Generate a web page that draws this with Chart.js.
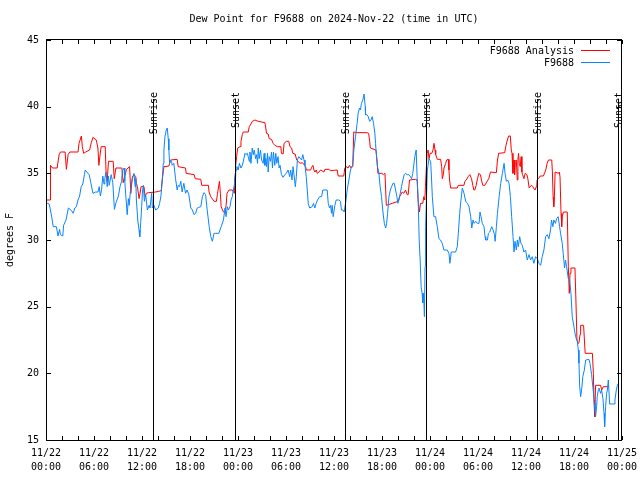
<!DOCTYPE html>
<html><head><meta charset="utf-8">
<script src="https://cdn.jsdelivr.net/npm/chart.js@4"></script>
<style>html,body{margin:0;padding:0;background:#fff}</style>
</head><body>
<canvas id="c" width="640" height="480"></canvas>
<script>
const chartTitle = "Dew Point for F9688 on 2024-Nov-22 (time in UTC)";
const yAxisTitle = "degrees F";
const seriesNames = ["F9688 Analysis", "F9688"];
const tickDates = ["11/22","11/22","11/22","11/22","11/23","11/23","11/23","11/23","11/24","11/24","11/24","11/24","11/25"];
const tickTimes = ["00:00","06:00","12:00","18:00","00:00","06:00","12:00","18:00","00:00","06:00","12:00","18:00","00:00"];
const sunEventHours = [13.41, 23.62, 37.4, 47.55, 61.42, 71.54];
const sunEventLabels = ["Sunrise","Sunset","Sunrise","Sunset","Sunrise","Sunset"];

// [hours since 11/22 00:00 UTC, dew point °F]
const analysisPoints = [[0.0,33.0],[0.5,33.0],[0.56,35.6],[0.81,35.4],[1.39,35.4],[1.64,36.4],[1.81,36.6],[2.39,36.6],[2.55,35.3],[2.76,36.4],[2.97,36.6],[4.0,36.6],[4.13,37.25],[4.42,37.8],[4.54,37.0],[4.71,36.5],[4.96,36.6],[5.45,36.75],[5.66,37.3],[5.87,37.7],[6.28,37.5],[6.49,36.9],[6.61,35.6],[6.78,36.5],[6.9,37.0],[7.4,37.0],[7.52,34.9],[7.65,34.4],[7.81,35.9],[8.4,35.9],[8.53,34.6],[8.74,35.4],[9.48,35.4],[9.65,34.3],[10.06,35.3],[10.45,35.5],[10.6,33.5],[10.8,34.75],[11.01,34.9],[11.22,34.75],[11.3,34.25],[11.43,34.0],[11.63,33.1],[11.76,33.5],[11.88,34.0],[12.25,34.0],[12.38,33.25],[12.55,33.5],[12.79,33.55],[13.71,33.6],[14.41,33.7],[14.53,34.5],[14.74,35.5],[15.36,35.55],[15.57,36.0],[16.4,36.05],[16.52,35.5],[17.44,35.4],[17.52,35.0],[18.52,34.9],[18.65,34.6],[19.35,34.55],[19.47,34.1],[20.3,34.1],[20.39,33.6],[20.59,33.25],[21.01,32.9],[21.3,32.9],[21.42,33.4],[21.55,33.9],[21.68,34.4],[21.8,33.5],[21.89,32.5],[22.18,32.1],[22.38,32.0],[22.51,32.6],[22.63,33.5],[22.88,33.75],[23.3,33.75],[23.54,33.5],[23.63,34.75],[23.71,35.6],[23.83,36.25],[23.96,36.9],[24.25,37.0],[24.37,37.4],[24.54,37.9],[24.66,38.1],[25.28,38.1],[25.41,38.5],[25.62,38.7],[25.78,38.9],[26.11,39.0],[26.53,38.9],[27.36,38.8],[27.48,38.4],[27.56,38.0],[27.77,37.95],[27.9,37.6],[28.19,37.55],[28.39,37.25],[28.6,37.1],[28.93,37.0],[29.35,37.0],[29.43,36.5],[29.64,36.45],[29.76,37.25],[30.05,37.4],[30.34,37.4],[30.5,37.0],[30.7,36.9],[30.85,36.5],[31.14,36.45],[31.34,36.0],[31.76,35.75],[32.05,35.8],[32.46,35.5],[32.54,35.25],[33.08,35.25],[33.2,35.45],[33.37,35.6],[33.49,35.25],[33.62,35.1],[33.78,35.25],[33.91,35.0],[34.12,35.1],[34.32,35.25],[34.74,35.1],[34.86,35.3],[35.36,35.3],[35.57,35.2],[36.4,35.25],[36.52,34.8],[37.22,34.8],[37.35,35.4],[37.51,35.5],[37.76,35.4],[37.93,35.6],[38.14,35.4],[38.34,35.5],[38.47,38.1],[38.88,38.05],[40.13,38.05],[40.33,38.0],[40.46,37.4],[40.54,36.9],[41.24,36.75],[41.37,36.0],[41.49,35.0],[41.99,35.0],[42.17,34.9],[42.37,35.0],[42.46,33.75],[42.54,32.6],[43.28,32.75],[44.03,32.9],[44.2,33.25],[44.53,33.6],[44.73,33.5],[44.94,33.75],[45.15,33.4],[45.27,33.4],[45.44,34.5],[46.18,34.55],[46.39,34.5],[46.52,32.9],[46.68,32.1],[46.81,32.75],[47.1,32.75],[47.22,33.25],[47.35,33.0],[47.43,34.0],[47.51,35.0],[47.64,36.5],[47.76,36.75],[47.88,36.1],[48.01,36.5],[48.22,36.5],[48.38,36.75],[48.5,37.25],[48.63,36.75],[48.71,36.4],[48.92,36.05],[49.33,36.05],[49.46,35.5],[49.54,34.6],[49.67,34.9],[49.75,35.4],[49.96,35.75],[50.08,36.0],[50.29,36.05],[50.37,35.25],[50.45,34.5],[50.58,33.9],[51.41,33.9],[51.53,34.1],[52.24,34.1],[52.36,34.4],[52.53,34.5],[52.77,34.75],[52.98,34.9],[53.19,34.6],[53.35,34.1],[53.48,33.75],[53.6,33.75],[53.77,34.1],[53.94,34.6],[54.1,35.0],[54.31,34.9],[54.43,34.5],[54.6,34.1],[54.85,34.1],[55.14,34.4],[55.35,34.6],[55.56,35.1],[56.3,35.05],[56.43,36.0],[56.59,36.5],[57.34,36.55],[57.5,37.1],[57.67,37.5],[57.83,37.8],[58.04,37.8],[58.16,36.75],[58.25,36.5],[58.37,35.0],[58.5,36.0],[58.58,34.9],[58.66,35.9],[58.79,36.0],[58.91,34.5],[58.99,36.0],[59.07,36.5],[59.16,35.75],[59.28,35.5],[59.4,36.25],[59.49,35.1],[59.57,34.9],[59.74,34.6],[59.9,35.0],[60.11,34.9],[60.23,34.6],[60.4,33.9],[60.52,34.0],[60.73,34.1],[60.85,34.0],[60.94,33.9],[61.14,33.75],[61.35,34.1],[61.39,34.5],[61.56,34.6],[61.77,34.8],[62.18,34.8],[62.31,35.0],[62.47,35.25],[62.64,35.75],[62.81,36.0],[63.22,36.0],[63.3,35.1],[63.39,33.25],[63.47,32.5],[63.55,33.25],[63.64,35.1],[64.05,35.0],[64.17,35.1],[64.25,34.75],[64.38,32.0],[64.46,31.0],[64.54,31.75],[64.67,32.1],[65.16,32.1],[65.29,28.0],[65.41,26.0],[65.5,27.5],[65.62,27.9],[66.12,27.9],[66.24,25.5],[66.37,22.5],[66.53,22.25],[66.63,22.3],[66.75,22.9],[66.83,23.6],[67.2,23.6],[67.3,22.5],[67.4,21.5],[68.3,21.5],[68.42,20.0],[68.5,18.0],[68.58,16.75],[68.7,19.1],[69.33,19.1],[69.45,18.75],[69.67,19.0],[70.38,19.0]];

const stationPoints = [[0.0,32.8],[0.4,32.7],[0.7,31.8],[0.9,31.0],[1.3,31.0],[1.5,30.3],[1.7,30.8],[1.8,30.4],[2.1,30.3],[2.2,31.1],[2.5,31.5],[2.8,32.4],[3.0,32.3],[3.2,32.2],[3.4,32.0],[3.6,32.4],[3.8,32.5],[4.0,33.0],[4.2,33.3],[4.4,34.0],[4.6,34.2],[4.8,34.9],[4.9,35.25],[5.1,35.1],[5.4,34.9],[5.6,34.3],[5.87,33.5],[6.2,33.6],[6.5,33.6],[6.65,34.0],[6.8,33.3],[6.95,33.8],[7.1,34.8],[7.25,34.2],[7.35,34.6],[7.5,35.1],[7.65,34.0],[7.8,34.8],[7.9,34.1],[8.15,34.9],[8.35,34.3],[8.55,32.3],[8.75,32.8],[9.05,33.3],[9.25,34.0],[9.45,34.4],[9.55,35.2],[9.75,35.4],[9.85,34.4],[10.0,33.1],[10.15,31.9],[10.3,33.1],[10.4,32.6],[10.6,34.0],[10.8,34.6],[11.0,35.0],[11.14,34.0],[11.22,34.6],[11.3,33.0],[11.47,31.5],[11.63,30.75],[11.72,30.25],[11.84,31.3],[11.96,32.5],[12.05,33.6],[12.17,34.1],[12.3,32.9],[12.46,33.4],[12.67,32.25],[12.88,32.6],[13.0,32.4],[13.21,33.5],[13.29,32.4],[13.5,32.6],[13.71,32.25],[14.04,32.4],[14.2,32.75],[14.37,33.3],[14.53,34.5],[14.66,35.75],[14.74,36.75],[14.87,37.75],[15.03,38.25],[15.16,38.4],[15.28,37.6],[15.36,36.75],[15.45,35.75],[15.57,36.0],[15.69,35.9],[15.78,35.6],[15.98,35.75],[16.19,34.6],[16.4,33.75],[16.52,34.1],[16.69,34.0],[16.85,34.4],[17.02,33.6],[17.23,34.25],[17.44,33.5],[17.64,33.75],[17.85,33.4],[18.1,32.4],[18.3,32.25],[18.5,31.9],[18.7,32.0],[18.9,32.4],[19.1,32.45],[19.35,32.5],[19.55,33.25],[19.75,33.55],[19.95,33.4],[20.15,32.25],[20.4,31.0],[20.6,30.25],[20.8,29.9],[21.0,30.5],[21.2,30.5],[21.6,30.5],[21.9,31.0],[22.18,31.5],[22.38,32.4],[22.51,31.75],[22.67,32.5],[22.8,32.25],[23.0,32.5],[23.13,33.0],[23.29,33.25],[23.42,33.75],[23.54,34.1],[23.63,34.9],[23.75,35.25],[23.87,35.5],[24.04,35.25],[24.17,35.75],[24.37,35.4],[24.54,35.6],[24.7,36.0],[24.87,36.5],[24.99,36.4],[25.16,36.5],[25.28,36.25],[25.41,35.9],[25.49,36.6],[25.62,35.75],[25.78,36.9],[25.91,36.4],[26.03,36.75],[26.2,36.1],[26.32,36.4],[26.44,35.75],[26.53,36.9],[26.65,36.1],[26.82,36.75],[26.94,36.0],[27.15,35.75],[27.27,36.5],[27.36,35.6],[27.48,36.1],[27.56,35.5],[27.69,36.5],[27.77,35.1],[27.9,36.25],[28.06,35.9],[28.19,36.6],[28.31,35.4],[28.43,36.6],[28.6,35.6],[28.72,36.5],[28.85,35.75],[29.01,36.25],[29.14,35.4],[29.26,35.6],[29.43,34.9],[29.64,34.7],[29.84,34.9],[30.05,35.0],[30.26,35.25],[30.46,34.75],[30.59,35.25],[30.75,34.5],[30.88,35.5],[31.0,34.9],[31.17,34.0],[31.29,34.75],[31.42,36.0],[31.6,36.25],[31.95,36.0],[32.1,36.4],[32.25,36.0],[32.37,35.6],[32.53,34.75],[32.66,33.75],[32.78,32.75],[32.95,32.4],[33.28,32.5],[33.44,32.75],[33.6,32.4],[33.77,32.75],[33.94,33.0],[34.2,33.25],[34.45,33.25],[34.6,33.75],[35.15,33.75],[35.28,32.75],[35.44,32.4],[35.57,32.6],[35.69,32.0],[35.77,32.6],[35.9,31.75],[36.11,32.6],[36.27,33.0],[36.6,33.0],[36.81,32.9],[36.93,32.25],[37.1,32.25],[37.27,32.1],[37.44,32.75],[37.65,33.75],[37.86,34.5],[38.06,35.25],[38.19,35.5],[38.35,35.6],[38.48,36.75],[38.69,37.75],[38.89,38.75],[39.02,39.5],[39.18,39.9],[39.31,39.75],[39.43,40.25],[39.6,40.5],[39.76,40.95],[39.9,40.0],[39.94,39.4],[40.12,39.4],[40.28,39.25],[40.45,38.9],[40.61,39.0],[40.78,39.25],[40.94,38.75],[41.11,38.0],[41.19,37.25],[41.32,36.25],[41.44,35.5],[41.61,35.0],[41.77,34.0],[41.94,33.25],[42.12,32.1],[42.29,31.25],[42.46,30.9],[42.58,31.25],[42.7,32.0],[42.87,33.25],[43.04,33.75],[43.2,34.0],[43.37,34.25],[43.53,34.25],[43.7,33.75],[43.86,33.25],[43.99,32.75],[44.11,33.0],[44.28,33.5],[44.44,34.0],[44.61,34.5],[44.78,34.9],[44.94,35.0],[45.15,34.9],[45.36,34.9],[45.56,34.75],[45.69,34.6],[45.85,35.0],[46.1,36.25],[46.27,36.75],[46.39,34.75],[46.52,33.0],[46.65,30.0],[46.77,28.5],[46.89,26.5],[47.01,26.0],[47.1,25.3],[47.2,26.0],[47.3,24.25],[47.38,28.0],[47.45,31.0],[47.55,33.0],[47.67,35.25],[47.87,36.1],[48.08,35.9],[48.2,34.5],[48.29,33.25],[48.49,31.75],[48.7,31.75],[48.91,31.0],[49.12,30.1],[49.32,30.0],[49.53,29.75],[49.74,29.25],[50.16,29.25],[50.37,29.0],[50.49,28.25],[50.66,29.1],[50.78,29.1],[51.2,29.1],[51.41,29.5],[51.54,30.5],[51.71,32.0],[51.87,33.0],[52.04,33.9],[52.25,33.5],[52.46,32.9],[52.67,32.75],[52.88,32.5],[53.09,31.75],[53.22,30.9],[53.38,31.5],[53.51,31.25],[53.72,31.4],[53.92,31.25],[54.13,31.25],[54.25,32.1],[54.38,31.75],[54.54,31.25],[54.75,31.0],[54.88,30.25],[54.97,30.0],[55.18,30.0],[55.3,30.5],[55.47,30.6],[55.72,31.0],[55.89,30.75],[56.06,30.4],[56.14,29.9],[56.3,31.0],[56.43,32.0],[56.64,33.25],[56.84,34.25],[57.05,35.0],[57.26,35.75],[57.38,35.0],[57.55,34.4],[57.71,34.5],[57.88,34.25],[58.05,33.25],[58.21,31.75],[58.38,30.25],[58.5,29.1],[58.63,29.9],[58.79,29.25],[58.92,30.0],[59.04,29.5],[59.21,30.25],[59.37,29.75],[59.54,29.6],[59.74,29.1],[59.95,29.25],[60.16,28.5],[60.37,28.9],[60.57,28.5],[60.78,28.75],[60.99,28.25],[61.2,28.75],[61.41,28.6],[61.62,28.25],[61.83,28.1],[62.03,28.75],[62.24,29.25],[62.45,30.25],[62.66,30.4],[62.86,30.1],[63.07,30.75],[63.19,31.5],[63.36,31.0],[63.48,31.5],[63.69,31.25],[63.82,31.6],[64.02,31.75],[64.2,31.0],[64.32,30.5],[64.53,29.75],[64.65,29.0],[64.82,27.9],[64.94,28.5],[65.07,28.0],[65.29,27.1],[65.45,27.0],[65.62,26.0],[65.78,24.25],[65.99,23.5],[66.2,22.75],[66.41,22.4],[66.54,21.75],[66.62,20.75],[66.71,19.0],[66.83,18.25],[66.95,18.75],[67.1,19.75],[67.29,20.25],[67.46,21.0],[67.87,21.05],[68.0,20.75],[68.2,19.9],[68.42,18.6],[68.54,17.75],[68.62,17.25],[68.7,16.75],[68.83,17.5],[68.9,18.25],[69.04,18.75],[69.12,18.9],[69.33,18.5],[69.45,18.75],[69.62,18.1],[69.75,17.0],[69.83,16.0],[69.95,17.5],[70.08,18.5],[70.17,18.75],[70.29,19.5],[70.46,17.7],[71.0,17.7],[71.12,18.0],[71.29,18.75],[71.42,19.1],[71.54,19.25]];

const MONO = "'DejaVu Sans Mono', monospace";
const RED = '#ff0000';
const BLUE = '#0a84ff';

const framePlugin = {
  id: 'frame',
  afterDatasetsDraw(chart) {
    const { ctx, chartArea: a, scales: { x, y } } = chart;
    ctx.save();
    ctx.strokeStyle = '#000';
    ctx.fillStyle = '#000';
    ctx.lineWidth = 1;
    ctx.font = "10px " + MONO;
    // title, centred over the plot area
    ctx.textAlign = 'center';
    ctx.textBaseline = 'middle';
    ctx.fillText(chartTitle, (a.left + a.right) / 2, a.top - 21);
    // sunrise / sunset markers
    sunEventHours.forEach((h, i) => {
      const px = Math.round(x.getPixelForValue(h)) + 0.5;
      ctx.beginPath();
      ctx.moveTo(px, a.top + 59);
      ctx.lineTo(px, a.bottom);
      ctx.stroke();
      ctx.save();
      ctx.translate(px + 0.5, a.top + 52);
      ctx.rotate(-Math.PI / 2);
      ctx.textAlign = 'right';
      ctx.textBaseline = 'middle';
      ctx.fillText(sunEventLabels[i], 0, 0);
      ctx.restore();
    });
    // border
    ctx.strokeRect(a.left + 0.5, a.top - 0.5, a.right - a.left - 1, a.bottom - a.top + 1);
    // ticks
    ctx.beginPath();
    for (let h = x.min; h <= x.max; h += 2) {
      const px = Math.round(x.getPixelForValue(h)) + 0.5;
      ctx.moveTo(px, a.bottom); ctx.lineTo(px, a.bottom - 4);
      ctx.moveTo(px, a.top); ctx.lineTo(px, a.top + 4);
    }
    for (let v = y.min; v <= y.max; v += 5) {
      const py = Math.round(y.getPixelForValue(v)) + 0.5;
      ctx.moveTo(a.left, py); ctx.lineTo(a.left + 5, py);
      ctx.moveTo(a.right, py); ctx.lineTo(a.right - 5, py);
    }
    ctx.stroke();
    // legend (text to the left of the line sample)
    const ds = chart.data.datasets;
    const order = [ds.findIndex(d => d.label === seriesNames[0]), ds.findIndex(d => d.label === seriesNames[1])];
    order.forEach((idx, row) => {
      const d = ds[idx];
      const ty = a.top + 10.5 + row * 12.5;
      ctx.fillStyle = '#000';
      ctx.textAlign = 'right';
      ctx.textBaseline = 'middle';
      ctx.fillText(d.label, a.right - 48, ty + 0.5);
      ctx.strokeStyle = d.borderColor;
      ctx.beginPath();
      ctx.moveTo(a.right - 41, Math.round(ty) - 0.5);
      ctx.lineTo(a.right - 12, Math.round(ty) - 0.5);
      ctx.stroke();
    });
    ctx.restore();
  }
};

new Chart(document.getElementById('c'), {
  type: 'line',
  data: {
    datasets: [
      { label: seriesNames[1], data: stationPoints.map(p => ({ x: p[0], y: p[1] })), borderColor: BLUE, borderWidth: 1, pointRadius: 0, tension: 0, order: 0 },
      { label: seriesNames[0], data: analysisPoints.map(p => ({ x: p[0], y: p[1] })), borderColor: RED, borderWidth: 1, pointRadius: 0, tension: 0, order: 1 }
    ]
  },
  options: {
    responsive: false,
    animation: false,
    devicePixelRatio: 1,
    layout: { padding: { left: 0, right: 18, top: 40, bottom: 0 } },
    plugins: {
      legend: { display: false },
      tooltip: { enabled: false },
      title: { display: false }
    },
    scales: {
      x: {
        type: 'linear', min: 0, max: 72,
        grid: { display: false, drawTicks: false }, border: { display: false },
        ticks: {
          stepSize: 6, autoSkip: false, maxRotation: 0, minRotation: 0, color: '#000',
          font: { family: MONO, size: 10, lineHeight: 1.37 }, padding: 7,
          callback: (v) => { const i = Math.round(v / 6); return [tickDates[i], tickTimes[i]]; }
        },
        afterFit: (s) => { s.height = 40; s.paddingLeft = 0; s.paddingRight = 0; }
      },
      y: {
        min: 15, max: 45,
        grid: { display: false, drawTicks: false }, border: { display: false },
        ticks: { stepSize: 5, color: '#000', font: { family: MONO, size: 10 }, padding: 7 },
        title: { display: true, text: yAxisTitle, color: '#000', font: { family: MONO, size: 10 }, padding: { top: 4, bottom: 0 } },
        afterFit: (s) => { s.width = 46; s.paddingTop = 0; s.paddingBottom = 0; }
      }
    }
  },
  plugins: [framePlugin]
});
</script>
</body></html>
